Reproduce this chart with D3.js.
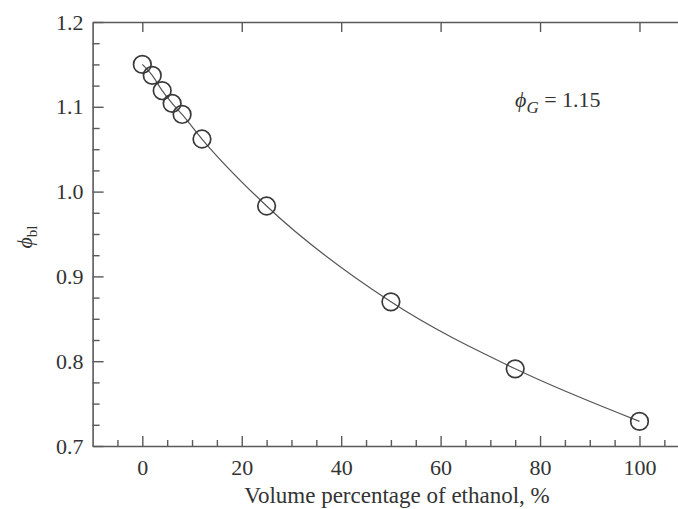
<!DOCTYPE html>
<html>
<head>
<meta charset="utf-8">
<script src="https://cdn.jsdelivr.net/npm/d3@7"></script>
<style>
  html, body { margin: 0; padding: 0; background: #fff; }
  svg { display: block; }
</style>
</head>
<body>
<svg id="chart" width="678" height="509"></svg>
<script>
const ethanolPct = [0, 2, 4, 6, 8, 12, 25, 50, 75, 100];
const phiBl = [1.15, 1.137, 1.119, 1.104, 1.091, 1.062, 0.983, 0.870, 0.791, 0.729];
const xMajorTicks = [0, 20, 40, 60, 80, 100];
const xMinorTicks = [-5, 5, 10, 15, 25, 30, 35, 45, 50, 55, 65, 70, 75, 85, 90, 95, 105];
const yMajorTicks = [0.7, 0.8, 0.9, 1.0, 1.1, 1.2];
const yMinorTicks = [0.725, 0.75, 0.775, 0.825, 0.85, 0.875, 0.925, 0.95, 0.975, 1.025, 1.05, 1.075, 1.125, 1.15, 1.175];

(function () {
const FONT = '"Liberation Serif"';
const TXT = "#333";
const svg = d3.select("#chart");
const axisColor = "#5a5a5a";

const x = d3.scaleLinear().domain([-10, 110]).range([92.6, 689.2]);
const y = d3.scaleLinear().domain([0.7, 1.2]).range([446, 22]);

const yTop = y(1.2), yBottom = y(0.7), xLeft = x(-10);

// Fitted curve
const pts = ethanolPct.map((v, i) => [v, phiBl[i]]);
svg.append("path")
  .datum(pts)
  .attr("fill", "none")
  .attr("stroke", "#555")
  .attr("stroke-width", 1.2)
  .attr("d", d3.line().x(d => x(d[0])).y(d => y(d[1])).curve(d3.curveMonotoneX));

// Markers
svg.append("g").selectAll("circle").data(pts).join("circle")
  .attr("cx", d => x(d[0]))
  .attr("cy", d => y(d[1]))
  .attr("r", 8.8)
  .attr("fill", "none")
  .attr("stroke", "#3a3a3a")
  .attr("stroke-width", 1.7);

function styleAxis(g) {
  g.attr("font-family", null).attr("font-size", null);
  g.selectAll("path.domain").attr("stroke", axisColor).attr("stroke-width", 1.6);
  g.selectAll(".tick line").attr("stroke", axisColor).attr("stroke-width", 1.4);
  g.selectAll(".tick text").attr("fill", TXT)
    .style("font-family", FONT).style("font-size", "22px");
}

// Bottom axis: major
const gxB = svg.append("g").attr("transform", `translate(0,${yBottom})`)
  .call(d3.axisBottom(x).tickValues(xMajorTicks).tickSizeInner(-10).tickSizeOuter(0).tickPadding(13.5).tickFormat(d3.format("d")));
styleAxis(gxB);
// Bottom minor
const gxBm = svg.append("g").attr("transform", `translate(0,${yBottom})`)
  .call(d3.axisBottom(x).tickValues(xMinorTicks).tickSizeInner(-6).tickSizeOuter(0).tickFormat(""));
styleAxis(gxBm);
gxBm.select("path.domain").remove();

// Top axis: major only
const gxT = svg.append("g").attr("transform", `translate(0,${yTop})`)
  .call(d3.axisTop(x).tickValues(xMajorTicks).tickSizeInner(-10).tickSizeOuter(0).tickFormat(""));
styleAxis(gxT);

// Left axis
const gyL = svg.append("g").attr("transform", `translate(${xLeft},0)`)
  .call(d3.axisLeft(y).tickValues(yMajorTicks).tickSizeInner(-11).tickSizeOuter(0).tickPadding(9).tickFormat(d3.format(".1f")));
styleAxis(gyL);
const gyLm = svg.append("g").attr("transform", `translate(${xLeft},0)`)
  .call(d3.axisLeft(y).tickValues(yMinorTicks).tickSizeInner(-7).tickSizeOuter(0).tickFormat(""));
styleAxis(gyLm);
gyLm.select("path.domain").remove();

// X axis title
svg.append("text")
  .attr("x", 397).attr("y", 503)
  .attr("text-anchor", "middle")
  .attr("fill", TXT)
  .style("font-family", FONT)
  .style("font-size", "23px")
  .text("Volume percentage of ethanol, %");

// Y axis title phi_bl
const yt = svg.append("text")
  .attr("transform", `translate(32,237) rotate(-90)`)
  .attr("text-anchor", "middle")
  .attr("fill", TXT)
  .style("font-family", FONT)
  .style("font-size", "22px");
yt.append("tspan").style("font-style", "italic").text("\u03D5");
yt.append("tspan").attr("dy", 5).style("font-size", "15px").text("bl");

// Annotation
const ann = svg.append("text")
  .attr("x", 515).attr("y", 107)
  .attr("fill", TXT)
  .style("font-family", FONT)
  .style("font-size", "22px");
ann.append("tspan").style("font-style", "italic").text("\u03D5");
ann.append("tspan").attr("dy", 6).style("font-style", "italic").style("font-size", "17px").text("G");
ann.append("tspan").attr("dy", -6).text(" = 1.15");
})();
</script>
</body>
</html>
